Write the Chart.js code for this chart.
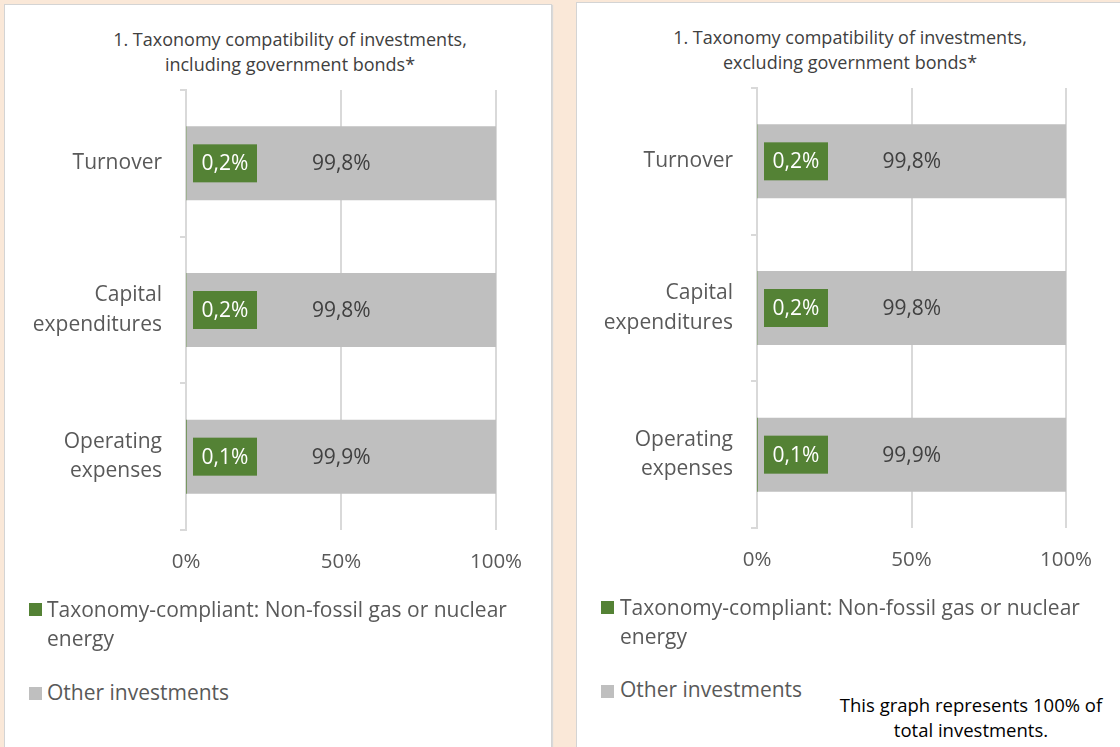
<!DOCTYPE html>
<html>
<head>
<meta charset="utf-8">
<script src="https://cdn.jsdelivr.net/npm/chart.js@4"></script>
<style>
  body { margin: 0; width: 1120px; height: 747px; overflow: hidden; background: #fae8d8; font-family: "Open Sans", sans-serif; position: relative; }
  .panel { position: absolute; background: #fff; border: 1px solid #d4d4d4; box-shadow: 1px 1px 1px #d9d9d9; }
  canvas { position: absolute; }
  .title { position: absolute; width: 500px; font-size: 18px; line-height: 25px; color: #404040; text-align: center; }
  .leg { position: absolute; font-size: 21px; line-height: 29px; color: #595959; white-space: nowrap; }
  .sq { position: absolute; width: 13px; height: 13px; }
  .note { position: absolute; font-size: 18.5px; line-height: 25px; color: #000; text-align: center; width: 320px; }
</style>
</head>
<body>
<div class="panel" style="left:4px; top:4px; width:546px; height:760px;"></div>
<div class="panel" style="left:576px; top:2px; width:560px; height:760px;"></div>

<div class="title" id="titleLeft" style="left:40px; top:27px;"></div>
<div class="title" id="titleRight" style="left:600px; top:25px;"></div>

<canvas id="left" style="left:4px; top:4px;" width="572" height="600"></canvas>
<canvas id="right" style="left:577px; top:2px;" width="543" height="600"></canvas>

<div class="sq" style="left:29px; top:603px; background:#548235;"></div>
<div class="leg" style="left:47px; top:595px;">Taxonomy-compliant: Non-fossil gas or nuclear<br>energy</div>
<div class="sq" style="left:29px; top:687px; background:#bfbfbf;"></div>
<div class="leg" style="left:47px; top:678px;">Other investments</div>

<div class="sq" style="left:601px; top:601px; background:#548235;"></div>
<div class="leg" style="left:620px; top:593px;">Taxonomy-compliant: Non-fossil gas or nuclear<br>energy</div>
<div class="sq" style="left:601px; top:685px; background:#bfbfbf;"></div>
<div class="leg" style="left:620px; top:675px;">Other investments</div>

<div class="note" style="left:811px; top:692px;">This graph represents 100% of<br>total investments.</div>

<script>
const categories = [["Turnover"], ["Capital", "expenditures"], ["Operating", "expenses"]];
const compliant = [0.2, 0.2, 0.1];
const other = [99.8, 99.8, 99.9];
const seriesNames = ["Taxonomy-compliant: Non-fossil gas or nuclear energy", "Other investments"];
const titleLeft = ["1. Taxonomy compatibility of investments,", "including government bonds*"];
const titleRight = ["1. Taxonomy compatibility of investments,", "excluding government bonds*"];

document.getElementById("titleLeft").innerHTML = titleLeft.join("<br>");
document.getElementById("titleRight").innerHTML = titleRight.join("<br>");

const fmt = v => v.toFixed(1).replace(".", ",") + "%";

// draws the value labels the way the original spreadsheet did
const valueLabels = {
  id: "valueLabels",
  afterDatasetsDraw(chart) {
    const ctx = chart.ctx;
    const area = chart.chartArea;
    ctx.save();
    ctx.font = '21px "Open Sans"';
    ctx.textAlign = "center";
    ctx.textBaseline = "middle";
    chart.getDatasetMeta(0).data.forEach((bar, i) => {
      const x = area.left + 7;
      ctx.fillStyle = "#548235";
      ctx.fillRect(x, bar.y - 19, 64, 38);
      ctx.fillStyle = "#ffffff";
      ctx.fillText(fmt(compliant[i]), x + 32, bar.y + 1);
    });
    chart.getDatasetMeta(1).data.forEach((bar, i) => {
      ctx.fillStyle = "#404040";
      ctx.fillText(fmt(other[i]), (bar.x + bar.base) / 2, bar.y + 1);
    });
    ctx.restore();
  }
};

function makeChart(id, padRight, yWidth) {
  return new Chart(document.getElementById(id), {
    type: "bar",
    data: {
      labels: categories,
      datasets: [
        { label: seriesNames[0], data: compliant, backgroundColor: "#548235" },
        { label: seriesNames[1], data: other, backgroundColor: "#bfbfbf" }
      ]
    },
    options: {
      indexAxis: "y",
      responsive: false,
      animation: false,
      events: [],
      categoryPercentage: 1,
      barPercentage: 0.505,
      layout: { padding: { left: 0, right: padRight, top: 86, bottom: 0 } },
      plugins: {
        legend: { display: false },
        tooltip: { enabled: false },
        title: { display: false }
      },
      scales: {
        x: {
          stacked: true,
          min: 0,
          max: 100,
          ticks: {
            stepSize: 50,
            callback: v => v + "%",
            color: "#595959",
            padding: 20,
            font: { family: "Open Sans", size: 20.5 }
          },
          grid: { color: "#d9d9d9", lineWidth: 2, drawTicks: false },
          border: { display: false },
          afterFit: s => { s.height = 74; }
        },
        y: {
          stacked: true,
          ticks: {
            color: "#595959",
            padding: 18,
            font: { family: "Open Sans", size: 21, lineHeight: 1.4 }
          },
          grid: { color: "#d9d9d9", lineWidth: 2, drawOnChartArea: false, tickLength: 6, offset: true },
          border: { display: true, color: "#d9d9d9", width: 2 },
          afterFit: s => { s.width = yWidth; }
        }
      }
    },
    plugins: [valueLabels]
  });
}

makeChart("left", 80, 182);
makeChart("right", 54, 180);
</script>
</body>
</html>
